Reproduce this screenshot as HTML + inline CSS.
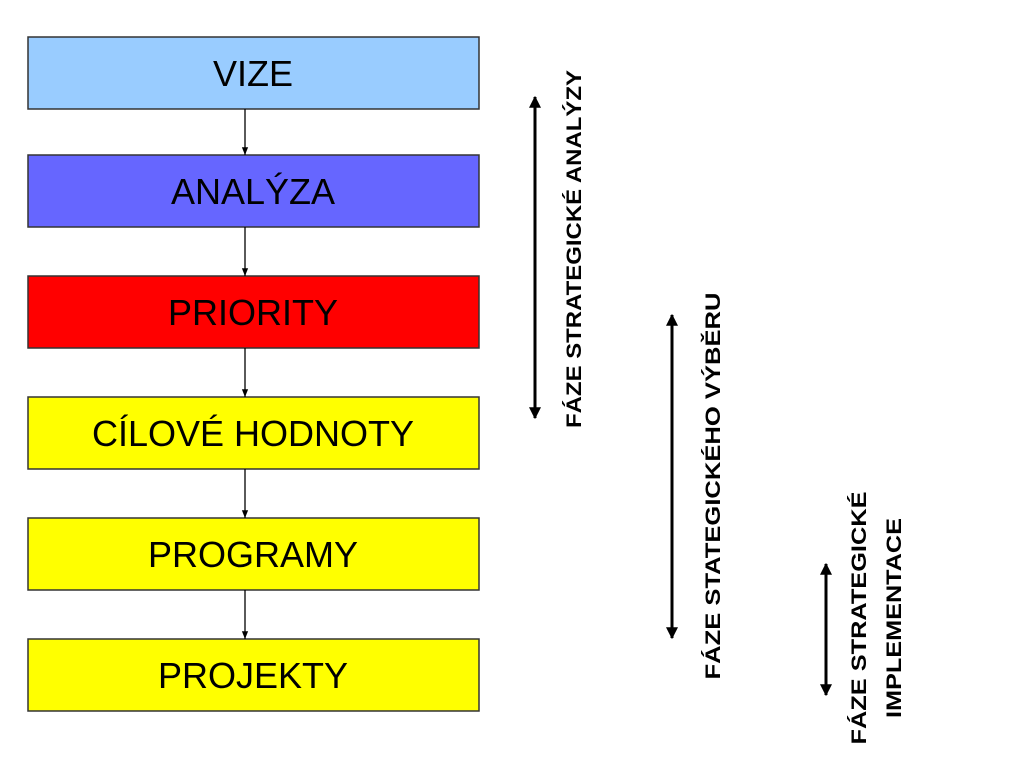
<!DOCTYPE html>
<html><head><meta charset="utf-8"><style>
html,body{margin:0;padding:0;background:#fff;}
svg{display:block;}
</style></head><body>
<svg width="1024" height="768" viewBox="0 0 1024 768" xmlns="http://www.w3.org/2000/svg">
<defs>
<marker id="ah" viewBox="0 0 10 10" refX="10" refY="5" markerWidth="6" markerHeight="6" orient="auto"><path d="M0,1 L10,5 L0,9 z" fill="#000"/></marker>
<marker id="bh" viewBox="0 0 10 10" refX="9" refY="5" markerWidth="4" markerHeight="4" orient="auto-start-reverse"><path d="M0,0 L10,5 L0,10 z" fill="#000"/></marker>
</defs>
<g font-family="Liberation Sans, sans-serif" font-size="36" text-anchor="middle">
<g><rect x="28" y="37" width="451" height="72" fill="#99CCFF" stroke="#333" stroke-width="1.5"/><text x="253" y="86">VIZE</text></g>
<g><rect x="28" y="155" width="451" height="72" fill="#6666FF" stroke="#333" stroke-width="1.5"/><text x="253" y="204">ANALÝZA</text></g>
<g><rect x="28" y="276" width="451" height="72" fill="#FF0000" stroke="#333" stroke-width="1.5"/><text x="253" y="325">PRIORITY</text></g>
<g><rect x="28" y="397" width="451" height="72" fill="#FFFF00" stroke="#333" stroke-width="1.5"/><text x="253" y="446">CÍLOVÉ HODNOTY</text></g>
<g><rect x="28" y="518" width="451" height="72" fill="#FFFF00" stroke="#333" stroke-width="1.5"/><text x="253" y="567">PROGRAMY</text></g>
<g><rect x="28" y="639" width="451" height="72" fill="#FFFF00" stroke="#333" stroke-width="1.5"/><text x="253" y="688">PROJEKTY</text></g>
</g>
<g stroke="#000" stroke-width="1.3">
<line x1="245" y1="109" x2="245" y2="155" marker-end="url(#ah)"/>
<line x1="245" y1="227" x2="245" y2="276" marker-end="url(#ah)"/>
<line x1="245" y1="348" x2="245" y2="397" marker-end="url(#ah)"/>
<line x1="245" y1="469" x2="245" y2="518" marker-end="url(#ah)"/>
<line x1="245" y1="590" x2="245" y2="639" marker-end="url(#ah)"/>
</g>
<g stroke="#000" stroke-width="3">
<line x1="535" y1="97" x2="535" y2="418" marker-start="url(#bh)" marker-end="url(#bh)"/>
<line x1="672" y1="315" x2="672" y2="638" marker-start="url(#bh)" marker-end="url(#bh)"/>
<line x1="826" y1="564" x2="826" y2="695" marker-start="url(#bh)" marker-end="url(#bh)"/>
</g>
<g font-family="Liberation Sans, sans-serif" font-size="21" font-weight="bold" text-anchor="middle">
<text transform="translate(581,249) rotate(-90)" textLength="358" lengthAdjust="spacingAndGlyphs">FÁZE STRATEGICKÉ ANALÝZY</text>
<text transform="translate(720,486) rotate(-90)" textLength="387" lengthAdjust="spacingAndGlyphs">FÁZE STATEGICKÉHO VÝBĚRU</text>
<text transform="translate(866,618) rotate(-90)" textLength="253" lengthAdjust="spacingAndGlyphs">FÁZE STRATEGICKÉ</text>
<text transform="translate(901,618) rotate(-90)" textLength="200" lengthAdjust="spacingAndGlyphs">IMPLEMENTACE</text>
</g>
</svg>
</body></html>
